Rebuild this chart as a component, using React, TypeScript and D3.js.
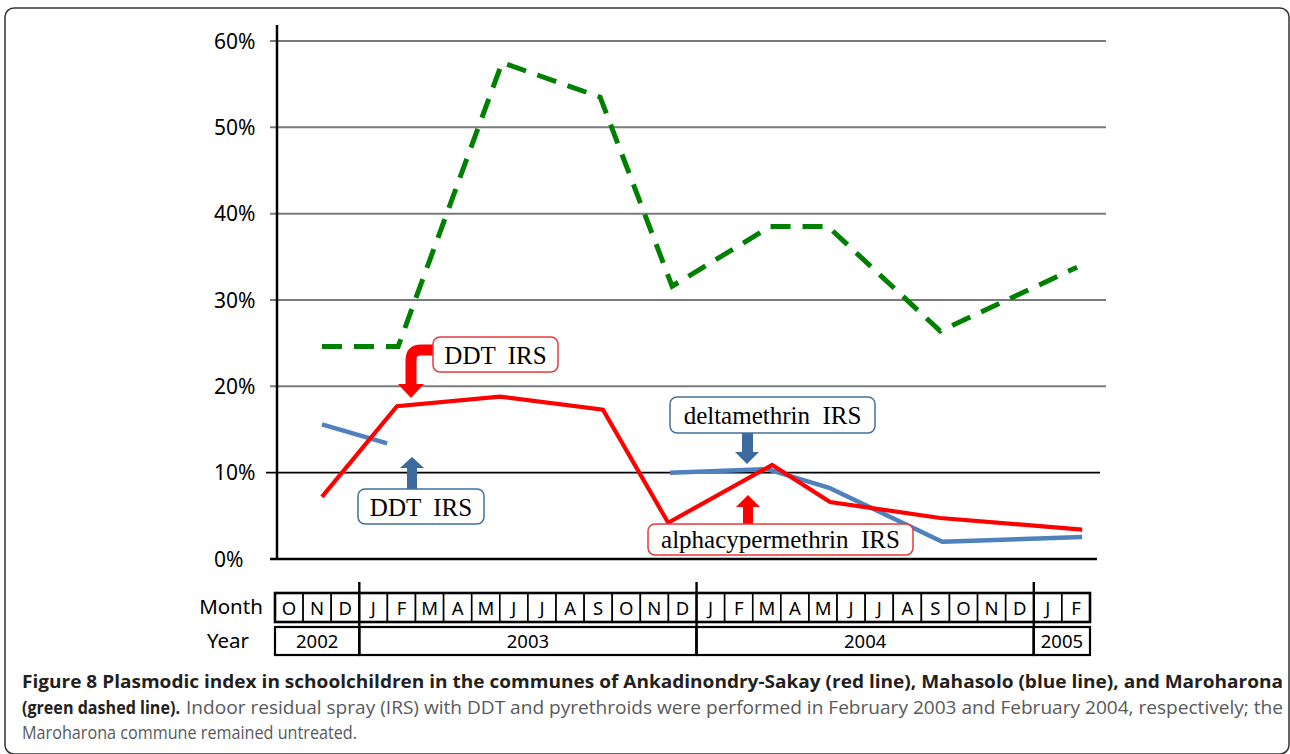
import React from "react";
import * as d3 from "d3";

// ---- data ----
const monthLetters = ["O","N","D","J","F","M","A","M","J","J","A","S","O","N","D","J","F","M","A","M","J","J","A","S","O","N","D","J","F"];
const yearLabels = ["2002", "2003", "2004", "2005"];
const yearMonthCounts = [3, 12, 12, 2];
const yTicks = [0, 10, 20, 30, 40, 50, 60];

// x in month index units (0 = October 2002), y in percent
const greenMonth = [1.17, 3.88, 7.58, 11.07, 13.63, 17.12, 19.18, 23.17, 28.04];
const greenValues = [24.6, 24.6, 57.5, 53.5, 31.6, 38.5, 38.5, 26.4, 33.8];
const redMonth = [1.17, 3.84, 7.51, 11.17, 13.49, 17.19, 19.25, 23.17, 28.22];
const redValues = [7.2, 17.7, 18.8, 17.3, 4.2, 10.9, 6.6, 4.75, 3.4];
const blueMonth = [1.17, 3.49, 13.56, 17.01, 19.25, 23.24, 28.22];
const blueValues = [15.6, 13.4, 10.0, 10.4, 8.2, 2.0, 2.55];
const blueSegment = [0, 0, 1, 1, 1, 1, 1];

const captionLine1 = "Figure 8 Plasmodic index in schoolchildren in the communes of Ankadinondry-Sakay (red line), Mahasolo (blue line), and Maroharona";
const captionLine2Bold = "(green dashed line).";
const captionLine2 = "Indoor residual spray (IRS) with DDT and pyrethroids were performed in February 2003 and February 2004, respectively; the";
const captionLine3 = "Maroharona commune remained untreated.";

const W = 1290;
const H = 754;

export default function App() {
  const x = d3.scaleLinear().domain([-0.5, 28.5]).range([275, 1090]);
  const y = d3.scaleLinear().domain([0, 60]).range([559, 41]);

  const line = d3
    .line<[number, number]>()
    .x((d) => x(d[0]))
    .y((d) => y(d[1]))
    .curve(d3.curveLinear);

  const greenPts = greenMonth.map((m, i) => [m, greenValues[i]] as [number, number]);
  const redPts = redMonth.map((m, i) => [m, redValues[i]] as [number, number]);
  const blueGroups = d3.groups(
    blueMonth.map((m, i) => ({ p: [m, blueValues[i]] as [number, number], s: blueSegment[i] })),
    (d) => d.s
  );

  // year boundaries
  const yearStarts: number[] = [];
  let acc = 0;
  yearMonthCounts.forEach((n) => {
    yearStarts.push(acc);
    acc += n;
  });

  const serif = "'Liberation Serif', 'Times New Roman', serif";
  const sans = "'Noto Sans', 'Open Sans', sans-serif";
  const capFont = "'Open Sans', 'Noto Sans', sans-serif";

  const monthTop = 593, monthBot = 622, yearTop = 627, yearBot = 655;

  return (
    <svg
      width={W}
      height={H}
      viewBox={`0 0 ${W} ${H}`}
      style={{ position: "absolute", left: 0, top: 0, background: "#fff" }}
    >
      <rect x={0} y={0} width={W} height={H} fill="#fff" />
      {/* figure frame */}
      <rect x={5} y={8} width={1284} height={746} rx={9} fill="none" stroke="#333" strokeWidth={1.5} />

      {/* gridlines */}
      {yTicks.map((t) => {
        const isBlack = t <= 10;
        return (
          <line
            key={"g" + t}
            x1={t === 0 ? 270 : t === 10 ? 266 : 270}
            x2={t === 0 ? 1097 : t === 10 ? 1100 : 1106}
            y1={y(t)}
            y2={y(t)}
            stroke={isBlack ? "#000" : "#7a7a7a"}
            strokeWidth={t === 0 ? 2.5 : isBlack ? 1.6 : 2}
          />
        );
      })}
      {/* y axis */}
      <line x1={277} x2={277} y1={25} y2={560} stroke="#000" strokeWidth={2.5} />
      {yTicks.map((t) => (
        <text
          key={"yl" + t}
          x={214}
          y={y(t) + 7.5}
          fontFamily={sans}
          fontSize={21}
          fill="#000"
        >
          {t + "%"}
        </text>
      ))}

      {/* series */}
      {blueGroups.map(([k, g]) => (
        <path
          key={"b" + k}
          d={line(g.map((d) => d.p)) || ""}
          fill="none"
          stroke="#4f81bd"
          strokeWidth={4.5}
          strokeLinejoin="round"
        />
      ))}
      <path d={line(redPts) || ""} fill="none" stroke="#ff0000" strokeWidth={4.2} strokeLinejoin="miter" />
      <path
        d={line(greenPts) || ""}
        fill="none"
        stroke="#008000"
        strokeWidth={5}
        strokeDasharray="20,12"
        strokeLinejoin="miter"
      />

      {/* annotations */}
      {/* red DDT IRS */}
      <path d="M 434 350 L 421 350 Q 411 350 411 360 L 411 385" fill="none" stroke="#ff0000" strokeWidth={11} />
      <polygon points="398,384 424,384 411,398" fill="#ff0000" />
      <rect x={433} y={337} width={125} height={35} rx={7} fill="#fff" stroke="#e8383d" strokeWidth={1.5} />
      <text x={495.5} y={364} textAnchor="middle" fontFamily={serif} fontSize={25} style={{ whiteSpace: "pre" }}>
        {"DDT  IRS"}
      </text>

      {/* blue DDT IRS */}
      <rect x={407} y={467} width={10} height={23} fill="#3d6a9e" />
      <polygon points="400,468 424,468 412,457" fill="#3d6a9e" />
      <rect x={358} y={489} width={126} height={35} rx={7} fill="#fff" stroke="#41719c" strokeWidth={1.5} />
      <text x={421} y={516} textAnchor="middle" fontFamily={serif} fontSize={25} style={{ whiteSpace: "pre" }}>
        {"DDT  IRS"}
      </text>

      {/* deltamethrin IRS */}
      <rect x={742} y={432} width={11} height={21} fill="#3d6a9e" />
      <polygon points="735,452 759,452 747,464" fill="#3d6a9e" />
      <rect x={670} y={397} width={205} height={36} rx={7} fill="#fff" stroke="#41719c" strokeWidth={1.5} />
      <text x={772.5} y={424} textAnchor="middle" fontFamily={serif} fontSize={25} style={{ whiteSpace: "pre" }}>
        {"deltamethrin  IRS"}
      </text>

      {/* alphacypermethrin IRS */}
      <rect x={743} y={506} width={10} height={19} fill="#ff0000" />
      <polygon points="736,507 760,507 748,495" fill="#ff0000" />
      <rect x={648} y={524} width={265} height={31} rx={7} fill="#fff" stroke="#e8383d" strokeWidth={1.5} />
      <text x={780.5} y={548} textAnchor="middle" fontFamily={serif} fontSize={25} style={{ whiteSpace: "pre" }}>
        {"alphacypermethrin  IRS"}
      </text>

      {/* month / year table */}
      <text x={231} y={614} textAnchor="middle" fontFamily={sans} fontSize={20.5} fill="#000">
        Month
      </text>
      <text x={228} y={648} textAnchor="middle" fontFamily={sans} fontSize={20.5} fill="#000">
        Year
      </text>
      {monthLetters.map((m, i) => (
        <g key={"m" + i}>
          <rect
            x={x(i - 0.5)}
            y={monthTop}
            width={x(i + 0.5) - x(i - 0.5)}
            height={monthBot - monthTop}
            fill="#fff"
            stroke="#000"
            strokeWidth={1.6}
          />
          <text
            x={x(i)}
            y={monthTop + 21.5}
            textAnchor="middle"
            fontFamily={sans}
            fontSize={18.5}
            fill="#000"
          >
            {m}
          </text>
        </g>
      ))}
      <rect
        x={x(-0.5)}
        y={monthTop}
        width={x(28.5) - x(-0.5)}
        height={monthBot - monthTop}
        fill="none"
        stroke="#000"
        strokeWidth={2.6}
      />
      {yearLabels.map((yl, i) => {
        const s = yearStarts[i];
        const e = s + yearMonthCounts[i];
        return (
          <g key={"y" + yl}>
            <rect
              x={x(s - 0.5)}
              y={yearTop}
              width={x(e - 0.5) - x(s - 0.5)}
              height={yearBot - yearTop}
              fill="#fff"
              stroke="#000"
              strokeWidth={2.2}
            />
            <text
              x={(x(s - 0.5) + x(e - 0.5)) / 2}
              y={yearTop + 21}
              textAnchor="middle"
              fontFamily={sans}
              fontSize={18.5}
              fill="#000"
            >
              {yl}
            </text>
          </g>
        );
      })}
      {yearStarts.slice(1).map((s) => (
        <line key={"d" + s} x1={x(s - 0.5)} x2={x(s - 0.5)} y1={582} y2={yearBot} stroke="#000" strokeWidth={2.4} />
      ))}

      {/* caption */}
      <text
        x={22}
        y={688}
        fontFamily={capFont}
        fontWeight={700}
        fontSize={18.5}
        fill="#231f20"
        textLength={1261}
        lengthAdjust="spacingAndGlyphs"
      >
        {captionLine1}
      </text>
      <text
        x={22}
        y={714}
        fontFamily={capFont}
        fontWeight={700}
        fontSize={18.5}
        fill="#231f20"
        textLength={158}
        lengthAdjust="spacingAndGlyphs"
      >
        {captionLine2Bold}
      </text>
      <text
        x={186}
        y={714}
        fontFamily={capFont}
        fontSize={18.5}
        fill="#58595b"
        textLength={1097}
        lengthAdjust="spacingAndGlyphs"
      >
        {captionLine2}
      </text>
      <text
        x={22}
        y={739}
        fontFamily={capFont}
        fontSize={18.5}
        fill="#58595b"
        textLength={335}
        lengthAdjust="spacingAndGlyphs"
      >
        {captionLine3}
      </text>
    </svg>
  );
}
